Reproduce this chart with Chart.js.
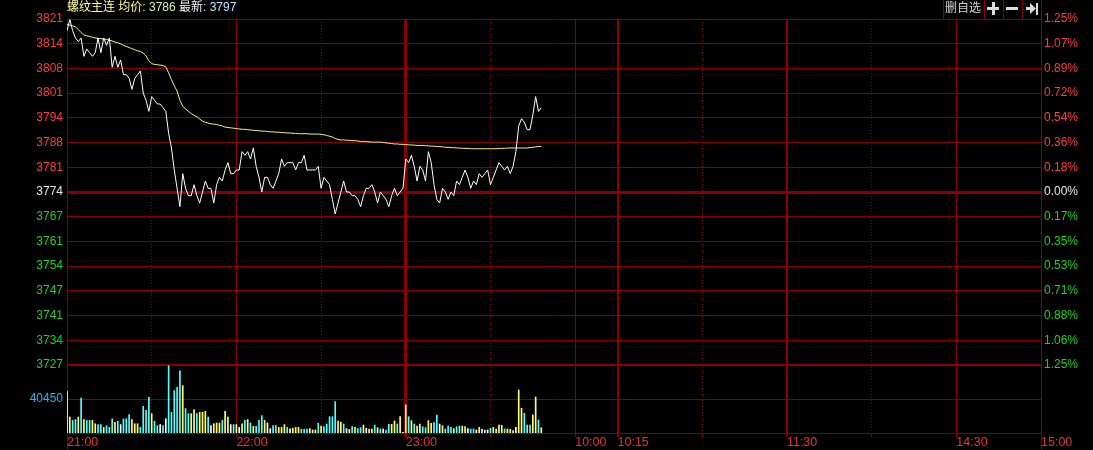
<!DOCTYPE html>
<html>
<head>
<meta charset="utf-8">
<script src="https://cdn.jsdelivr.net/npm/chart.js@4.4.1/dist/chart.umd.min.js"></script>
<style>
    html, body { margin: 0; padding: 0; background: #000; }
</style>
</head>
<body>
<canvas id="chart" width="1093" height="450"></canvas>
<script>
// header
const contractName = '螺纹主连'
const headerAvg = 3786
const headerLast = 3797

// price axis: previous settle +/- 1.25 %, 15 grid rows
const settlePrice = 3774
const pctRange = 1.25
const priceTickLabels = ['3821', '3814', '3808', '3801', '3794', '3788', '3781', '3774',
    '3767', '3761', '3754', '3747', '3741', '3734', '3727']
const pctTickLabels = ['1.25%', '1.07%', '0.89%', '0.72%', '0.54%', '0.36%', '0.18%', '0.00%',
    '0.17%', '0.35%', '0.53%', '0.71%', '0.88%', '1.06%', '1.25%']

// volume axis
const volMax = 80900
const volTick = 40450

// time axis in trading minutes: 21:00-23:00, 9:00-10:15, 10:30-11:30, 13:30-15:00
const totalMinutes = 345
const timeTicks = [0, 60, 120, 180, 195, 255, 315, 345]
const timeTickLabels = ['21:00', '22:00', '23:00', '10:00', '10:15', '11:30', '14:30', '15:00']
const halfHourTicks = [30, 90, 150, 225, 285]
const sessionBreaks = [120, 195, 255]

// one value per minute from 21:00
const lastPrice = [
    3818, 3821, 3818, 3816, 3815, 3816, 3811, 3813, 3812, 3811,
    3812, 3816, 3812, 3816, 3814, 3816, 3808, 3811, 3808, 3810,
    3806, 3806, 3805, 3802, 3805, 3806, 3807, 3801, 3799, 3796,
    3800, 3799, 3798, 3798, 3797, 3796, 3790, 3786, 3780, 3775,
    3770, 3779, 3775, 3773, 3773, 3776, 3773, 3771, 3774, 3777,
    3775, 3775, 3771, 3776, 3778, 3777, 3780, 3782, 3779, 3779,
    3780, 3780, 3785, 3784, 3785, 3783, 3786, 3781, 3778, 3774,
    3778, 3778, 3776, 3775, 3777, 3779, 3783, 3781, 3782, 3782,
    3782, 3780, 3782, 3782, 3784, 3780, 3780, 3780, 3780, 3781,
    3775, 3778, 3777, 3776, 3772, 3768, 3771, 3774, 3777, 3774,
    3774, 3773, 3773, 3772, 3770, 3773, 3775, 3775, 3776, 3774,
    3771, 3774, 3773, 3772, 3770, 3773, 3775, 3773, 3774, 3775,
    3783, 3782, 3784, 3781, 3777, 3781, 3780, 3777, 3785, 3782,
    3776, 3772, 3771, 3775, 3774, 3772, 3774, 3773, 3777, 3776,
    3778, 3780, 3778, 3775, 3777, 3776, 3779, 3778, 3779, 3780,
    3776, 3778, 3780, 3782, 3781, 3780, 3781, 3779, 3781, 3785,
    3792, 3794, 3793, 3791, 3791, 3795, 3800, 3796, 3797
]

const avgPrice = [
    3819.7, 3819.5, 3819.3, 3819.0, 3818.3, 3817.5, 3816.8, 3816.6, 3816.4, 3816.2,
    3816.0, 3815.9, 3815.8, 3815.7, 3815.6, 3815.4, 3815.2, 3814.9, 3814.7, 3814.4,
    3814.0, 3813.7, 3813.4, 3813.1, 3812.8, 3812.5, 3812.3, 3811.9, 3811.1, 3809.8,
    3809.0, 3808.8, 3808.7, 3808.6, 3808.5, 3808.1, 3806.5, 3804.6, 3803.0, 3801.5,
    3799.0, 3797.4, 3796.6, 3796.0, 3795.4, 3794.9, 3794.5, 3793.9, 3793.3, 3793.0,
    3792.8, 3792.6, 3792.5, 3792.4, 3792.2, 3792.0, 3791.7, 3791.6, 3791.5, 3791.4,
    3791.3, 3791.2, 3791.1, 3791.1, 3791.0, 3790.9, 3790.8, 3790.8, 3790.7, 3790.6,
    3790.6, 3790.5, 3790.4, 3790.4, 3790.3, 3790.3, 3790.2, 3790.2, 3790.1, 3790.1,
    3790.0, 3790.0, 3789.9, 3789.9, 3789.9, 3789.9, 3789.8, 3789.8, 3789.8, 3789.8,
    3789.7, 3789.6, 3789.4, 3789.2, 3789.0, 3788.6, 3788.3, 3788.2, 3788.2, 3788.1,
    3788.1, 3788.0, 3788.0, 3787.9, 3787.8, 3787.8, 3787.7, 3787.7, 3787.6, 3787.6,
    3787.6, 3787.6, 3787.5, 3787.4, 3787.3, 3787.2, 3787.1, 3787.1, 3787.0, 3787.0,
    3786.9, 3786.9, 3786.8, 3786.8, 3786.7, 3786.7, 3786.7, 3786.6, 3786.6, 3786.5,
    3786.5, 3786.4, 3786.4, 3786.3, 3786.2, 3786.2, 3786.1, 3786.1, 3786.0, 3786.0,
    3785.9, 3785.9, 3785.9, 3785.8, 3785.8, 3785.8, 3785.8, 3785.8, 3785.8, 3785.8,
    3785.8, 3785.8, 3785.8, 3785.9, 3785.9, 3785.9, 3786.0, 3786.0, 3786.0, 3786.0,
    3786.0, 3786.0, 3786.0, 3786.0, 3786.1, 3786.2, 3786.3, 3786.4, 3786.4
]

const volume = [
    49500, 19000, 15000, 16000, 19000, 41600, 16000, 15000, 15000, 15000,
    11000, 10000, 10000, 6700, 8700, 6700, 16700, 12700, 13900, 10000,
    16700, 17000, 21800, 16000, 11000, 11000, 6700, 31700, 27000, 42500,
    23000, 13900, 8700, 10000, 8700, 17000, 80000, 24600, 50400, 54300,
    74100, 56300, 29000, 23000, 23000, 27800, 23000, 24600, 24600, 25800,
    19000, 8700, 11000, 11900, 11900, 15000, 25800, 19000, 10000, 10000,
    10000, 6700, 11000, 15000, 16000, 11900, 7900, 7900, 15000, 20600,
    15000, 11900, 5100, 8700, 8700, 6700, 6700, 10000, 6700, 5100,
    5900, 6700, 6700, 4400, 4400, 4800, 5200, 3600, 3600, 11500,
    8300, 7500, 10700, 19400, 19400, 37300, 14300, 13100, 10700, 5200,
    4400, 7500, 6700, 5200, 6300, 9500, 5600, 4800, 4800, 9500,
    6300, 4800, 4800, 3600, 10300, 10300, 14300, 10700, 19400, 800,
    33300, 19400, 14700, 10700, 8300, 10700, 7500, 6300, 14700, 11500,
    12300, 21400, 10700, 8700, 4800, 8300, 6700, 5200, 7500, 8300,
    8300, 7500, 5200, 4800, 4800, 3600, 6700, 4400, 3600, 3600,
    5600, 6700, 4800, 9500, 9100, 4800, 4800, 4400, 2800, 6700,
    51200, 29400, 23400, 9500, 9500, 21400, 42800, 15500, 6300
]

// tick direction of each minute: 1 up, -1 down, 0 flat
const volDir = [
    0, 1, -1, -1, 1, -1, 1, -1, -1, 1,
    1, -1, -1, 1, -1, -1, -1, 1, -1, 0,
    -1, -1, -1, 1, 1, 1, -1, -1, -1, -1,
    1, -1, -1, 0, -1, 0, -1, -1, -1, -1,
    -1, 1, -1, -1, 1, 1, -1, 1, 1, 1,
    -1, 0, 1, 1, 1, -1, 1, 1, 0, -1,
    1, 0, 1, -1, 1, -1, 1, -1, -1, -1,
    1, 0, 0, -1, -1, 1, 1, 1, -1, 0,
    1, 1, 1, -1, -1, -1, 0, 1, 1, -1,
    1, -1, -1, -1, -1, -1, 1, 1, -1, 0,
    1, -1, 1, -1, -1, 1, 0, 1, 1, -1,
    1, -1, 0, -1, -1, 1, 1, -1, 1, 0,
    1, -1, 1, -1, 1, 1, -1, -1, 1, 1,
    -1, -1, 0, 1, -1, -1, -1, 1, -1, -1,
    1, 1, 0, -1, -1, 0, 1, 0, 0, 0,
    -1, 1, 1, 1, 1, -1, 1, 1, 1, 0,
    1, 1, -1, -1, -1, 1, 1, -1, 1
]

const gridRed = '#8a0000'
const upRed = '#ff3c3c'
const downGreen = '#1ed21e'
const flatWhite = '#e6e6e6'
const volCyan = '#1eb4ff'
const numFont = "'Liberation Sans', Arial, sans-serif"
const cjkFont = "'Liberation Sans', 'Noto Sans CJK SC', sans-serif"

const priceTop = settlePrice * (1 + pctRange / 100)
const priceBottom = settlePrice * (1 - pctRange / 100)
const priceStep = (priceTop - priceBottom) / (priceTickLabels.length - 1)

function rowColor(index) {
    // index counts from the top row
    if (index < 7) return upRed
    if (index == 7) return flatWhite
    return downGreen
}

function priceGridTicks(scale) {
    scale.ticks = priceTickLabels.map(function(_, k) { return {value: priceTop - k * priceStep} })
}

function dirColor(d) {
    if (d > 0) return '#ffff6e'
    if (d < 0) return '#54ffff'
    return '#ffffff'
}

const priceAxis = {
    position: 'left', stack: 'main', stackWeight: 346, weight: 2,
    min: priceBottom, max: priceTop,
    afterBuildTicks: priceGridTicks,
    afterFit: function(s) { s.width = 67 },
    ticks: {
        autoSkip: false, padding: 4,
        font: {family: numFont, size: 12},
        color: function(c) { return rowColor(c.index) },
        callback: function(v, i) { return priceTickLabels[i] },
    },
    grid: {
        color: gridRed, drawTicks: false,
        lineWidth: function(c) { return c.index == 7 ? 3 : (c.index == 14 ? 2 : 1) },
    },
    border: {color: gridRed},
}

const pctAxis = {
    position: 'right', stack: 'main', stackWeight: 346, weight: 1,
    min: priceBottom, max: priceTop,
    afterBuildTicks: priceGridTicks,
    afterFit: function(s) { s.width = 52 },
    ticks: {
        autoSkip: false, padding: 3,
        font: {family: numFont, size: 12},
        color: function(c) { return rowColor(c.index) },
        callback: function(v, i) { return pctTickLabels[i] },
    },
    grid: {display: false, drawTicks: false},
    border: {color: gridRed},
}

const volAxis = {
    position: 'left', stack: 'main', stackWeight: 68, weight: 1,
    min: 0, max: volMax,
    afterBuildTicks: function(s) { s.ticks = [{value: volTick}] },
    afterFit: function(s) { s.width = 67 },
    ticks: {
        autoSkip: false, padding: 4,
        font: {family: numFont, size: 12},
        color: volCyan,
        callback: function(v) { return String(v) },
    },
    grid: {color: gridRed, drawTicks: false},
    border: {color: gridRed},
}

const volAxisRight = {
    position: 'right', stack: 'main', stackWeight: 68, weight: 2,
    min: 0, max: volMax,
    afterFit: function(s) { s.width = 52 },
    ticks: {display: false},
    grid: {display: false, drawTicks: false},
    border: {color: gridRed},
}

const timeAxis = {
    type: 'linear', position: 'bottom',
    min: 0, max: totalMinutes,
    offset: false,
    afterBuildTicks: function(s) {
        s.ticks = timeTicks.concat(halfHourTicks).sort(function(a, b) { return a - b })
            .map(function(v) { return {value: v} })
    },
    afterFit: function(s) { s.height = 17 },
    ticks: {
        autoSkip: false, maxRotation: 0, align: 'start', padding: -2,
        font: {family: numFont, size: 12.5},
        color: '#e83232',
        callback: function(v) {
            let k = timeTicks.indexOf(v)
            return k < 0 ? '' : timeTickLabels[k]
        },
    },
    grid: {
        offset: false,
        color: gridRed, tickColor: gridRed, tickLength: 4,
        lineWidth: function(c) {
            if (!c.tick) return 1
            return c.tick.value == 120 ? 3 : (sessionBreaks.indexOf(c.tick.value) >= 0 ? 2 : 1)
        },
    },
    border: {
        color: gridRed,
        dash: function(c) {
            return (c.tick && halfHourTicks.indexOf(c.tick.value) >= 0) ? [1, 2] : []
        },
    },
}

const decorations = {
    id: 'decorations',
    beforeDraw: function(chart) {
        let ctx = chart.ctx
        ctx.save()
        ctx.fillStyle = '#000'
        ctx.fillRect(0, 0, chart.width, chart.height)
        ctx.restore()
    },
    afterDraw: function(chart) {
        let ctx = chart.ctx
        let area = chart.chartArea
        ctx.save()

        // frame lines running past the plot area
        ctx.strokeStyle = gridRed
        ctx.lineWidth = 1
        ctx.beginPath()
        ctx.moveTo(Math.round(area.right) + 0.5, 0)
        ctx.lineTo(Math.round(area.right) + 0.5, chart.height)
        ctx.moveTo(Math.round(area.left) + 0.5, Math.round(area.bottom))
        ctx.lineTo(Math.round(area.left) + 0.5, chart.height)
        ctx.stroke()

        // header text
        ctx.font = '12px ' + cjkFont
        ctx.textBaseline = 'middle'
        let parts = [
            [contractName, '#ffff9a'], [' 均价', '#ffff8c'], [': ' + headerAvg, '#d7f5a0'],
            [' 最新', '#f0f0f0'], [': ' + headerLast, '#b4e6ff'],
        ]
        let x = 67
        parts.forEach(function(p) {
            ctx.fillStyle = p[1]
            ctx.fillText(p[0], x, 8)
            x += ctx.measureText(p[0]).width
        })

        // buttons at top right
        let bx = [943, 984, 1003, 1022, 1041]
        ctx.beginPath()
        bx.forEach(function(v) { ctx.moveTo(v + 0.5, 0); ctx.lineTo(v + 0.5, 19) })
        ctx.moveTo(943, 19.5)
        ctx.lineTo(1041, 19.5)
        ctx.stroke()
        ctx.fillStyle = '#d2d2d2'
        ctx.fillText('删自选', 945, 9)
        ctx.fillStyle = '#dcdcdc'
        ctx.fillRect(987, 7, 12, 3)
        ctx.fillRect(992, 2, 3, 13)
        ctx.fillRect(1006, 7, 12, 3)
        ctx.beginPath()
        ctx.moveTo(1026, 7)
        ctx.lineTo(1030, 7)
        ctx.lineTo(1030, 3)
        ctx.lineTo(1036, 8.5)
        ctx.lineTo(1030, 14)
        ctx.lineTo(1030, 10)
        ctx.lineTo(1026, 10)
        ctx.closePath()
        ctx.fill()
        ctx.fillRect(1036, 3, 2, 12)
        ctx.restore()
    },
}

new Chart(document.getElementById('chart'), {
    data: {
        datasets: [
            {
                type: 'line', label: 'price', yAxisID: 'y', xAxisID: 'x',
                data: lastPrice.map(function(p, i) { return {x: i, y: p} }),
                borderColor: '#ffffff', borderWidth: 1, pointRadius: 0, tension: 0,
            },
            {
                type: 'line', label: 'avg', yAxisID: 'y', xAxisID: 'x',
                data: avgPrice.map(function(p, i) { return {x: i, y: p} }),
                borderColor: '#f5f582', borderWidth: 1, pointRadius: 0, tension: 0,
            },
            {
                type: 'bar', label: 'volume', yAxisID: 'yv', xAxisID: 'x',
                data: volume.map(function(v, i) { return {x: i, y: v} }),
                backgroundColor: volDir.map(dirColor),
                barThickness: 1, borderWidth: 0,
            },
        ],
    },
    options: {
        responsive: false,
        animation: false,
        events: [],
        layout: {padding: {top: 19, left: 0, right: 0, bottom: 0}},
        plugins: {legend: {display: false}, tooltip: {enabled: false}},
        scales: {x: timeAxis, y: priceAxis, yv: volAxis, yp: pctAxis, yv2: volAxisRight},
    },
    plugins: [decorations],
})
</script>
</body>
</html>
